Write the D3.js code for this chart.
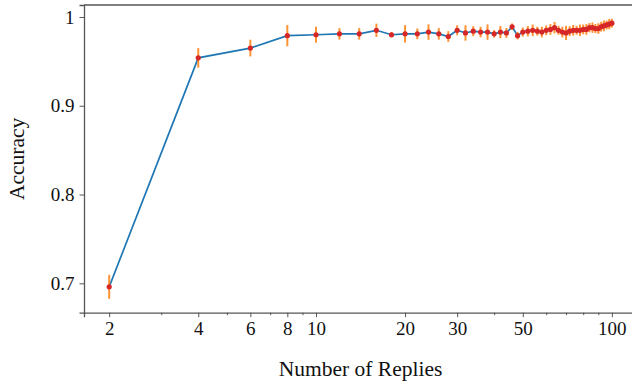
<!DOCTYPE html>
<html>
<head>
<meta charset="utf-8">
<script src="https://cdn.jsdelivr.net/npm/d3@7"></script>
<style>
  body { margin: 0; background: #fff; }
  text { font-family: "Liberation Serif", serif; fill: #111; }
</style>
</head>
<body>
<div id="chart"></div>
<script>
// number of replies (x) and measured accuracy with its error
const replies = [2, 4, 6, 8, 10, 12, 14, 16, 18, 20, 22, 24, 26, 28, 30, 32, 34, 36, 38, 40,
  42, 44, 46, 48, 50, 52, 54, 56, 58, 60, 62, 64, 66, 68, 70, 72, 74, 76, 78, 80,
  82, 84, 86, 88, 90, 92, 94, 96, 98, 100];
const accuracy = [0.696, 0.954, 0.965, 0.979, 0.980, 0.981, 0.981, 0.985, 0.980, 0.981,
  0.981, 0.983, 0.981, 0.978, 0.985, 0.982, 0.984, 0.983, 0.983, 0.981,
  0.983, 0.982, 0.989, 0.979, 0.983, 0.984, 0.985, 0.984, 0.983, 0.985,
  0.986, 0.988, 0.985, 0.983, 0.982, 0.984, 0.985, 0.985, 0.985, 0.986,
  0.986, 0.988, 0.988, 0.987, 0.987, 0.989, 0.990, 0.991, 0.992, 0.993];
const errors = [0.0135, 0.011, 0.0094, 0.012, 0.009, 0.0064, 0.0065, 0.0075, 0.003, 0.0098,
  0.006, 0.0087, 0.0065, 0.006, 0.0056, 0.0087, 0.0056, 0.006, 0.0087, 0.0042,
  0.0068, 0.0056, 0.0037, 0.0042, 0.005, 0.0058, 0.0065, 0.005, 0.006, 0.0055,
  0.006, 0.0065, 0.005, 0.006, 0.008, 0.0055, 0.006, 0.005, 0.0065, 0.0055,
  0.006, 0.0052, 0.0058, 0.005, 0.006, 0.0055, 0.006, 0.005, 0.0058, 0.005];

const xTicks = [2, 4, 6, 8, 10, 20, 30, 50, 100];
const xMinor = [3, 5, 7, 9, 40, 60, 70, 80, 90];
const yTicks = [0.7, 0.8, 0.9, 1.0];

const width = 632, height = 385;
const plotLeft = 84, plotTop = 5, plotRight = 637, plotBottom = 312.7;
const serif = "Liberation Serif, serif";

const svg = d3.select("#chart").append("svg")
  .attr("width", width)
  .attr("height", height);

const x = d3.scaleLog().domain([1.644, 121.6]).range([plotLeft, plotRight]);
const y = d3.scaleLinear().domain([0.6669, 1.0135]).range([plotBottom, plotTop]);

const data = replies.map((r, i) => ({ r: r, acc: accuracy[i], err: errors[i] }));

// line
svg.append("path")
  .datum(data)
  .attr("fill", "none")
  .attr("stroke", "#1f77b4")
  .attr("stroke-width", 1.7)
  .attr("d", d3.line().x(d => x(d.r)).y(d => y(d.acc)));

// error bars
svg.append("g")
  .selectAll("line")
  .data(data)
  .enter().append("line")
  .attr("x1", d => x(d.r))
  .attr("x2", d => x(d.r))
  .attr("y1", d => y(d.acc - d.err))
  .attr("y2", d => y(d.acc + d.err))
  .attr("stroke", "#ff7f0e")
  .attr("stroke-width", 2)
  .attr("stroke-opacity", 0.85);

// points
svg.append("g")
  .selectAll("circle")
  .data(data)
  .enter().append("circle")
  .attr("cx", d => x(d.r))
  .attr("cy", d => y(d.acc))
  .attr("r", 2.6)
  .attr("fill", "#d62728");

// axes
const xAxisG = svg.append("g")
  .attr("transform", `translate(0,${plotBottom})`)
  .call(d3.axisBottom(x).tickValues(xTicks).tickFormat(d3.format("d")).tickSize(4.5).tickPadding(4));
svg.append("g")
  .attr("transform", `translate(0,${plotBottom})`)
  .call(d3.axisBottom(x).tickValues(xMinor).tickFormat("").tickSize(2.5))
  .call(g => g.select(".domain").remove());

const yAxisG = svg.append("g")
  .attr("transform", `translate(${plotLeft},0)`)
  .call(d3.axisLeft(y).tickValues(yTicks).tickFormat(d => d === 1 ? "1" : d3.format(".1f")(d)).tickSize(4.5).tickPadding(5));

xAxisG.attr("font-family", serif).attr("font-size", 19);
yAxisG.attr("font-family", serif).attr("font-size", 19);

svg.selectAll(".domain").attr("stroke", "#555").attr("stroke-width", 1.3);
svg.selectAll(".tick line").attr("stroke", "#555").attr("stroke-width", 1);
svg.selectAll(".tick text").attr("fill", "#111");

// top spine
svg.append("line")
  .attr("x1", plotLeft).attr("x2", plotRight)
  .attr("y1", plotTop).attr("y2", plotTop)
  .attr("stroke", "#555").attr("stroke-width", 1.3);

// axis labels
svg.append("text")
  .attr("x", (plotLeft + plotRight) / 2)
  .attr("y", 376)
  .attr("text-anchor", "middle")
  .attr("font-size", 21.5)
  .text("Number of Replies");

svg.append("text")
  .attr("transform", `translate(24,${(plotTop + plotBottom) / 2}) rotate(-90)`)
  .attr("text-anchor", "middle")
  .attr("font-size", 21.5)
  .text("Accuracy");
</script>
</body>
</html>
